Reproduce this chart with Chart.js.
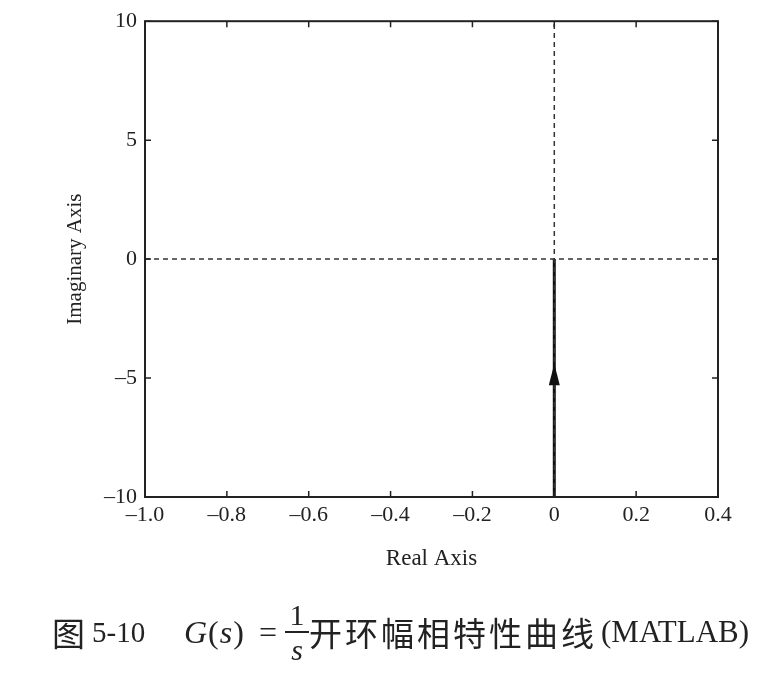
<!DOCTYPE html>
<html>
<head>
<meta charset="utf-8">
<script src="https://cdn.jsdelivr.net/npm/chart.js@4.4.1/dist/chart.umd.min.js"></script>
<style>
	body { margin: 0; background: #fff; }
	#wrap { position: relative; width: 760px; height: 680px; }
	#caption span.p { position: absolute; white-space: nowrap; color: #222; line-height: 40px; top: 612px; }
	.cjk { font-family: "Noto Sans CJK SC", sans-serif; font-size: 33px; }
	.lat { font-family: "Liberation Serif", serif; font-size: 31px; }
	.it { font-style: italic; }
	#frac { position: absolute; left: 285px; top: 598px; width: 24px; text-align: center; font-family: "Liberation Serif", serif; font-size: 30px; color: #222; }
	#frac div { line-height: 33px; }
	#frac .num { border-bottom: 2px solid #222; }
</style>
</head>
<body>
<div id="wrap">
	<canvas id="myChart" width="760" height="680"></canvas>
	<div id="caption">
		<span class="p cjk" style="left:52px">图</span>
		<span class="p lat" style="left:92px;font-size:29px">5-10</span>
		<span class="p lat" style="left:184px;font-size:32px;letter-spacing:1px"><span class="it">G</span>(<span class="it">s</span>)</span>
		<span class="p lat" style="left:259px;font-size:32px">=</span>
		<div id="frac"><div class="num">1</div><div class="it">s</div></div>
		<span class="p cjk" style="left:309px;letter-spacing:3px">开环幅相特性曲线</span>
		<span class="p lat" style="left:601px">(MATLAB)</span>
	</div>
</div>
<script>
// data
var curveX = [0, 0];
var curveY = [-10, 0];
var axisDashX = [[-1.0, 0.4], [0, 0]];
var axisDashY = [[0, 0], [-10, 10]];
var arrowX = 0;
var arrowTip = -4.4;
var arrowBase = -5.3;
var xTicks = [-1.0, -0.8, -0.6, -0.4, -0.2, 0, 0.2, 0.4];
var xTickLabels = ['\u20131.0', '\u20130.8', '\u20130.6', '\u20130.4', '\u20130.2', '0', '0.2', '0.4'];
var yTicks = [-10, -5, 0, 5, 10];
var yTickLabels = ['\u201310', '\u20135', '0', '5', '10'];

function pts(xs, ys) {
	return xs.map(function(x, i) { return { x: x, y: ys[i] }; });
}

// frame, inward ticks and the arrow head
var framePlugin = {
	id: 'frame',
	afterDatasetsDraw: function(chart) {
		var ctx = chart.ctx;
		var a = chart.chartArea;
		var xs = chart.scales.x, ys = chart.scales.y;
		ctx.save();
		ctx.strokeStyle = '#222';
		ctx.lineWidth = 2;
		ctx.strokeRect(a.left, a.top, a.right - a.left, a.bottom - a.top);
		ctx.lineWidth = 1.5;
		ctx.beginPath();
		xTicks.forEach(function(v) {
			var p = xs.getPixelForValue(v);
			ctx.moveTo(p, a.bottom); ctx.lineTo(p, a.bottom - 6);
			ctx.moveTo(p, a.top); ctx.lineTo(p, a.top + 6);
		});
		yTicks.forEach(function(v) {
			var p = ys.getPixelForValue(v);
			ctx.moveTo(a.left, p); ctx.lineTo(a.left + 6, p);
			ctx.moveTo(a.right, p); ctx.lineTo(a.right - 6, p);
		});
		ctx.stroke();
		// arrow
		var ax = xs.getPixelForValue(arrowX);
		var tip = ys.getPixelForValue(arrowTip);
		var base = ys.getPixelForValue(arrowBase);
		ctx.fillStyle = '#111';
		ctx.beginPath();
		ctx.moveTo(ax, tip);
		ctx.lineTo(ax - 5.5, base);
		ctx.lineTo(ax + 5.5, base);
		ctx.closePath();
		ctx.fill();
		ctx.restore();
	}
};

var ctx = document.getElementById('myChart').getContext('2d');
new Chart(ctx, {
	type: 'scatter',
	data: {
		datasets: [{
			data: pts(axisDashX[0], axisDashX[1]),
			showLine: true, borderColor: '#333', borderWidth: 1.5, borderDash: [5, 4], pointRadius: 0
		}, {
			data: pts(axisDashY[0], axisDashY[1]),
			showLine: true, borderColor: '#333', borderWidth: 1.5, borderDash: [5, 4], pointRadius: 0
		}, {
			data: pts(curveX, curveY),
			showLine: true, borderColor: '#111', borderWidth: 3, pointRadius: 0
		}]
	},
	options: {
		responsive: false,
		animation: false,
		layout: { padding: { left: 0, right: 42, top: 18, bottom: 103 } },
		plugins: { legend: { display: false }, tooltip: { enabled: false } },
		scales: {
			x: {
				type: 'linear', min: -1.0, max: 0.4,
				grid: { display: false, drawTicks: false },
				border: { display: false },
				afterBuildTicks: function(s) { s.ticks = xTicks.map(function(v) { return { value: v }; }); },
				afterFit: function(s) { s.height = 80; },
				ticks: {
					padding: 5, color: '#222', maxRotation: 0, autoSkip: false,
					font: { family: 'Liberation Serif', size: 22 },
					callback: function(v) { return xTickLabels[xTicks.indexOf(Math.round(v * 10) / 10)]; }
				},
				title: {
					display: true, text: 'Real Axis', color: '#222',
					font: { family: 'Liberation Serif', size: 23 },
					padding: { top: 0, bottom: 4 }
				}
			},
			y: {
				type: 'linear', min: -10, max: 10,
				grid: { display: false, drawTicks: false },
				border: { display: false },
				afterBuildTicks: function(s) { s.ticks = yTicks.map(function(v) { return { value: v }; }); },
				afterFit: function(s) { s.width = 145; },
				ticks: {
					padding: 8, color: '#222', autoSkip: false,
					font: { family: 'Liberation Serif', size: 22 },
					callback: function(v) { return yTickLabels[yTicks.indexOf(v)]; }
				},
				title: {
					display: true, text: 'Imaginary Axis', color: '#222',
					font: { family: 'Liberation Serif', size: 21 },
					padding: { top: 63, bottom: 0 }
				}
			}
		}
	},
	plugins: [framePlugin]
});
</script>
</body>
</html>
